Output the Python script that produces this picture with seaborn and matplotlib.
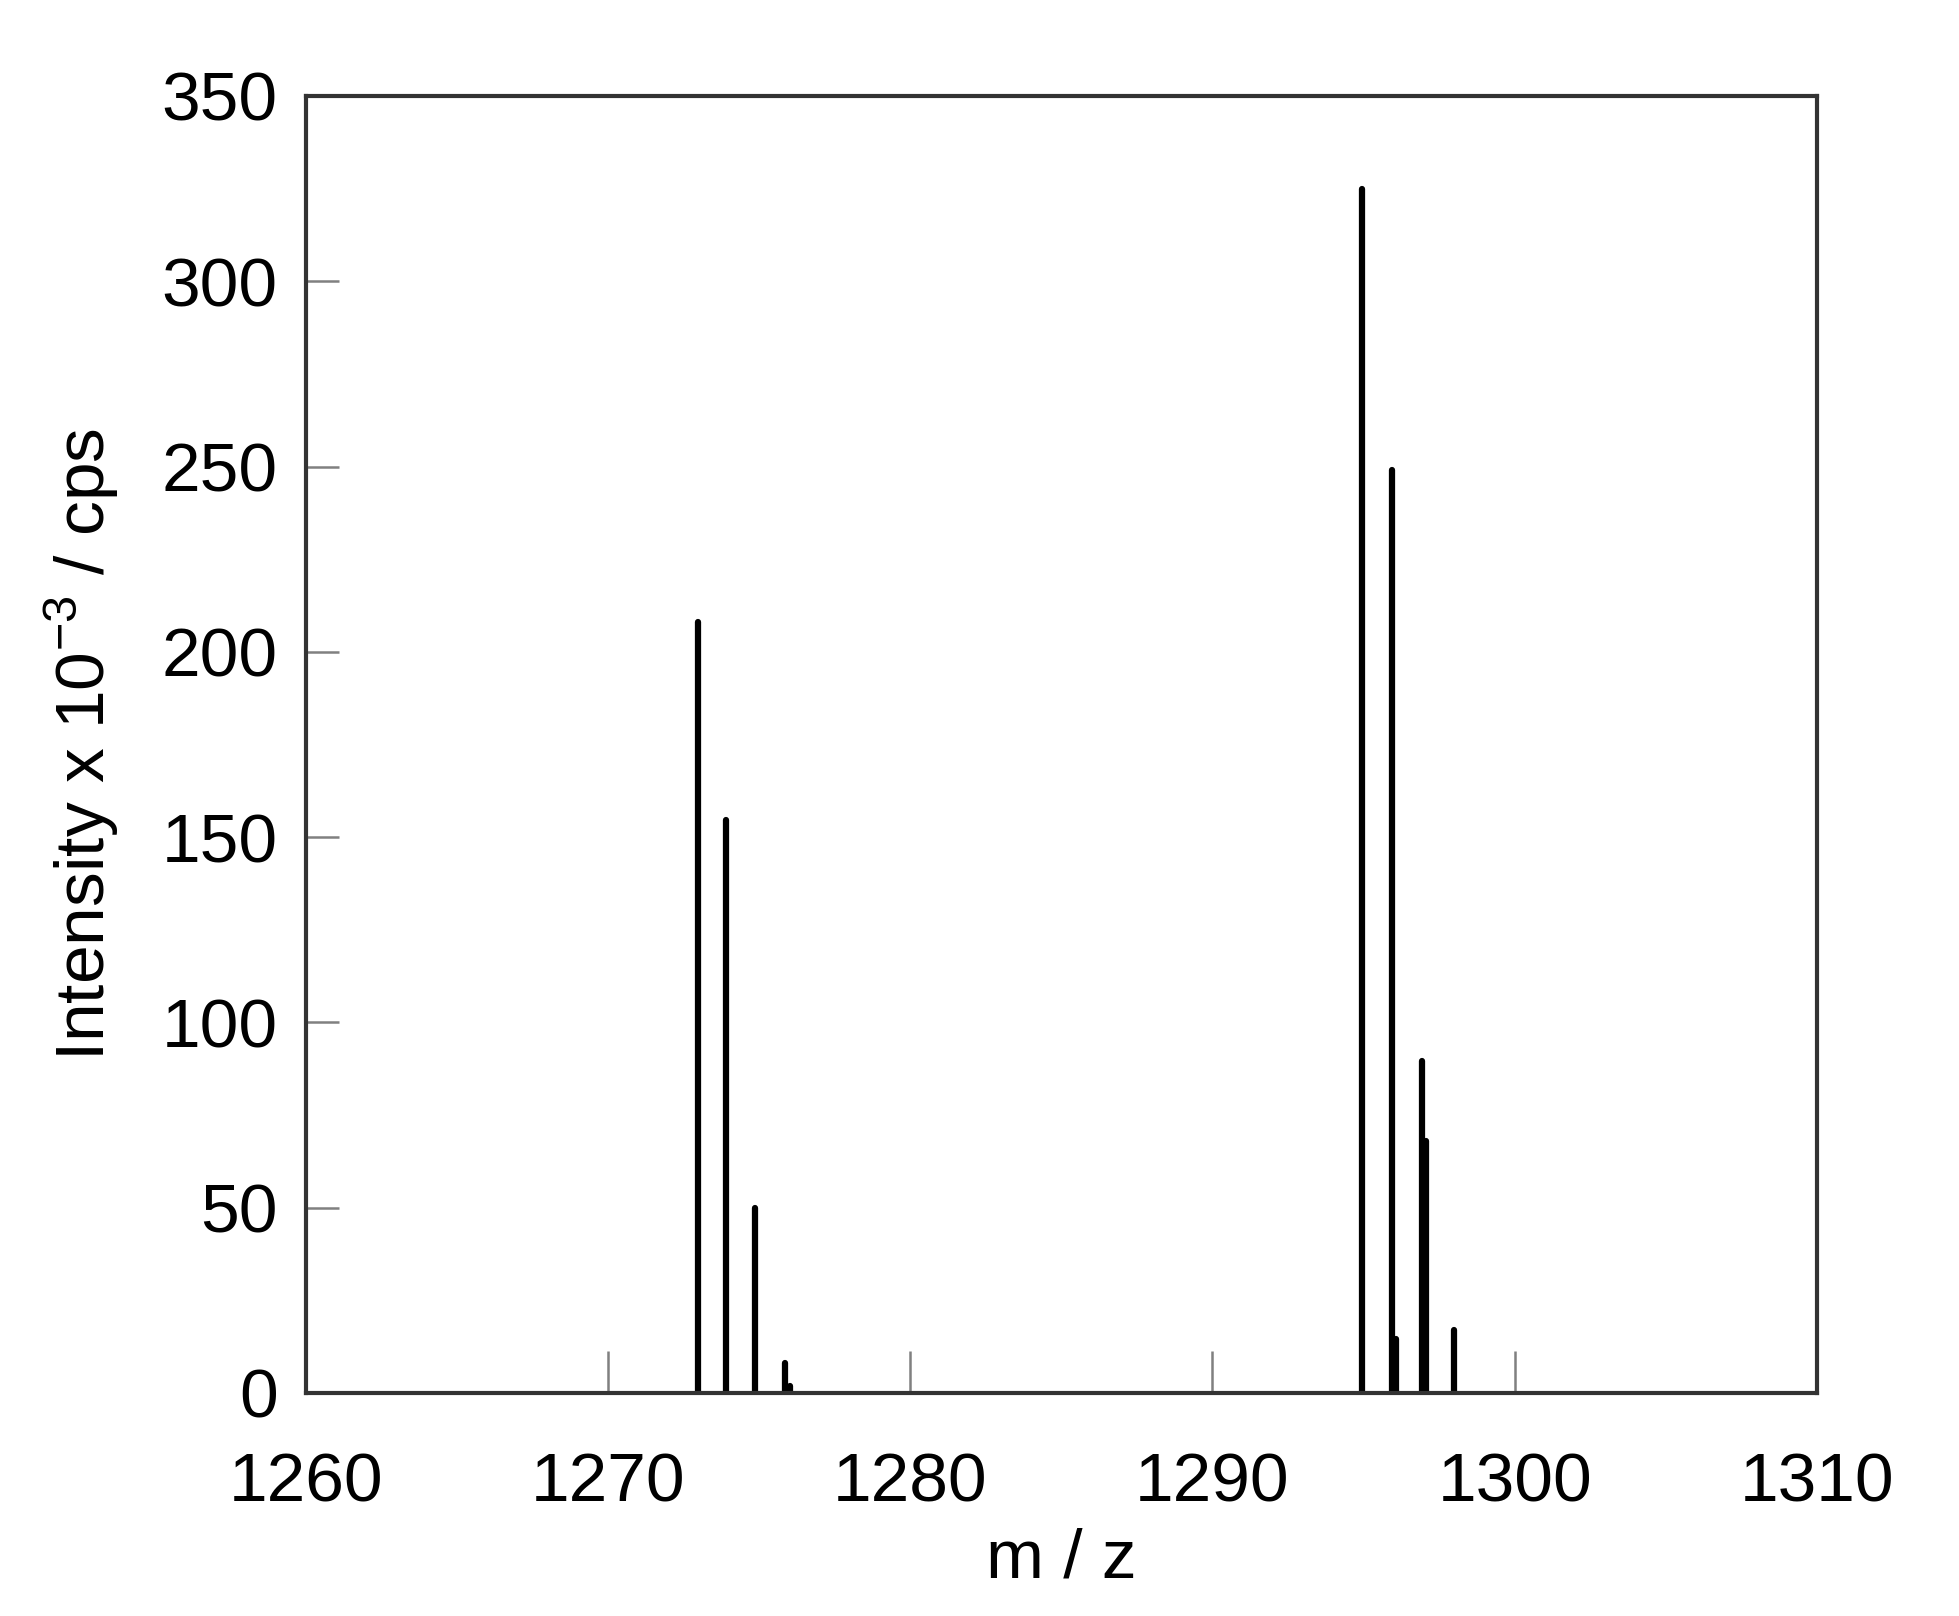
import numpy as np
import pandas as pd
import matplotlib
matplotlib.use("Agg")
import matplotlib.pyplot as plt
import seaborn as sns

# stick spectrum, m/z vs intensity (x 10^-3 cps)
MZ = [1272.97, 1273.90, 1274.86, 1275.85, 1276.03,
      1294.96, 1295.95, 1296.08, 1296.94, 1297.07, 1297.98]
INTENSITY = [208, 154.5, 50, 8, 2,
             325, 249, 14.5, 89.5, 68, 17]
X_TICKS = [1260, 1270, 1280, 1290, 1300, 1310]
Y_TICKS = [0, 50, 100, 150, 200, 250, 300, 350]

sns.set_theme(style="white")
plt.rcParams['font.family'] = ['Liberation Sans', 'DejaVu Sans']
plt.rcParams['mathtext.fontset'] = 'custom'
plt.rcParams['mathtext.rm'] = 'Liberation Sans'
plt.rcParams['text.color'] = 'black'
plt.rcParams['axes.labelcolor'] = 'black'

# each stick = baseline point + top point
rows = []
for i, (m, h) in enumerate(zip(MZ, INTENSITY)):
    rows.append({'peak': i, 'mz': m, 'intensity': 0.0})
    rows.append({'peak': i, 'mz': m, 'intensity': h})
df = pd.DataFrame(rows)

fig = plt.figure(figsize=(19.59, 16.16), dpi=100)
ax = fig.add_axes([0.156, 0.138, 0.7715, 0.8026])

sns.lineplot(data=df, x='mz', y='intensity', units='peak', estimator=None,
             sort=False, color='black', linewidth=4.5, ax=ax, legend=False)

ax.set_xlim(1260, 1310)
ax.set_ylim(0, 350)
ax.set_xticks(X_TICKS)
ax.set_yticks(Y_TICKS)
ax.tick_params(axis='x', bottom=True, direction='in', length=30, width=1.8,
               color='#808080', labelsize=50, pad=42, labelcolor='black')
ax.tick_params(axis='y', left=True, direction='in', length=24, width=1.8,
               color='#808080', labelsize=50, pad=20, labelcolor='black')
for s in ax.spines.values():
    s.set_visible(True)
    s.set_color('#333333')
    s.set_linewidth(3)

ax.set_xlabel('m / z', fontsize=50, labelpad=9)
ax.set_ylabel(r'Intensity x 10$^{\mathregular{-3}}$ / cps', fontsize=50, labelpad=29)

fig.savefig('out.png', dpi=100, facecolor='white')
